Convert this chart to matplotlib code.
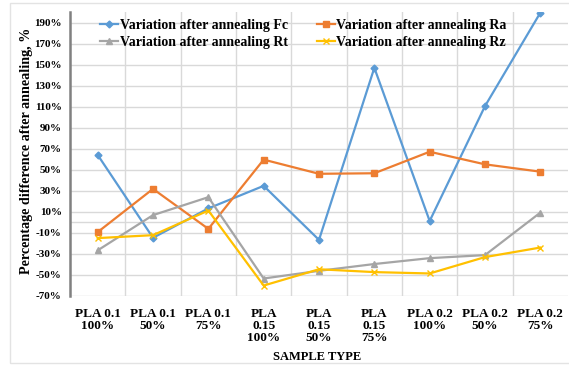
import matplotlib
matplotlib.use('Agg')
import matplotlib.pyplot as plt
from matplotlib.patches import Rectangle

# sample groups on the x axis
categories = ['PLA 0.1\n100%', 'PLA 0.1\n50%', 'PLA 0.1\n75%',
              'PLA\n0.15\n100%', 'PLA\n0.15\n50%', 'PLA\n0.15\n75%',
              'PLA 0.2\n100%', 'PLA 0.2\n50%', 'PLA 0.2\n75%']

# percentage change after annealing
fc = [64, -15, 13, 34.5, -17, 147, 1, 110.5, 199.5]
ra = [-9.6, 31.6, -6.5, 59.5, 46, 46.5, 67, 55, 48]
rt = [-27, 6.6, 23.7, -53.8, -46.5, -40, -34.4, -31.5, 9]
rz = [-15.3, -12.5, 11, -60.5, -45, -47.7, -49, -33.4, -24.3]

yticks = list(range(-70, 191, 20))

SERIF = ['Liberation Serif', 'DejaVu Serif']
plt.rcParams['font.family'] = SERIF
plt.rcParams['font.weight'] = 'bold'

fig = plt.figure(figsize=(5.69, 3.66), dpi=100)
# light chart border
fig.patches.append(Rectangle((10 / 569, 3 / 366), 600 / 569, 360 / 366,
                             transform=fig.transFigure, fill=False,
                             edgecolor='#E3E3E3', linewidth=1.0))
ax = fig.add_axes([70 / 569, 1 - 295.5 / 366, 498 / 569, 283.3 / 366])

x = list(range(len(categories)))
GRID = '#D9D9D9'

# grid: horizontal at ticks plus 0%, vertical between categories
for v in yticks + [0]:
    ax.axhline(v, color=GRID, linewidth=1.0, zorder=1)
for b in [i + 0.5 for i in range(len(categories) - 1)]:
    ax.axvline(b, color=GRID, linewidth=1.0, zorder=1)

l_fc, = ax.plot(x, fc, color='#5B9BD5', marker='D', markersize=3.5, linewidth=1.6,
                label='Variation after annealing Fc', zorder=3)
l_ra, = ax.plot(x, ra, color='#ED7D31', marker='s', markersize=5, linewidth=1.6,
                label='Variation after annealing Ra', zorder=3)
l_rt, = ax.plot(x, rt, color='#A5A5A5', marker='^', markersize=5, linewidth=1.6,
                label='Variation after annealing Rt', zorder=3)
l_rz, = ax.plot(x, rz, color='#FFC000', marker='x', markersize=4.5, linewidth=1.6,
                markeredgewidth=1.0, label='Variation after annealing Rz', zorder=3)

ax.set_xlim(-0.5, len(categories) - 0.5)
ax.set_ylim(-70, 200)
ax.set_yticks(yticks)
ax.set_yticklabels([f'{v}%' for v in yticks], fontsize=8, fontweight='bold')
ax.set_xticks(x)
ax.set_xticklabels(categories, fontsize=9.5, fontweight='bold', linespacing=1.0)
ax.tick_params(axis='both', length=0)
ax.tick_params(axis='y', pad=6)
ax.tick_params(axis='x', pad=9)

for s in ['top', 'right', 'bottom']:
    ax.spines[s].set_visible(False)
ax.spines['left'].set_color('#808080')
ax.spines['left'].set_linewidth(1.8)

ax.set_ylabel('Percentage difference after annealing, %', fontsize=10.2,
              fontweight='bold')
ax.yaxis.set_label_coords(-0.074, 0.51)
fig.text(317 / 569, 1 - 357 / 366, 'SAMPLE TYPE', ha='center', va='center',
         fontsize=9, fontweight='bold')

ax.legend(handles=[l_fc, l_rt, l_ra, l_rz], ncol=2, frameon=False,
          loc='upper left', bbox_to_anchor=(0.036, 1.02),
          prop={'family': SERIF, 'weight': 'bold', 'size': 10},
          handlelength=1.3, handletextpad=0.1, columnspacing=2.1,
          labelspacing=0.25)

fig.savefig('out.png', dpi=100)
